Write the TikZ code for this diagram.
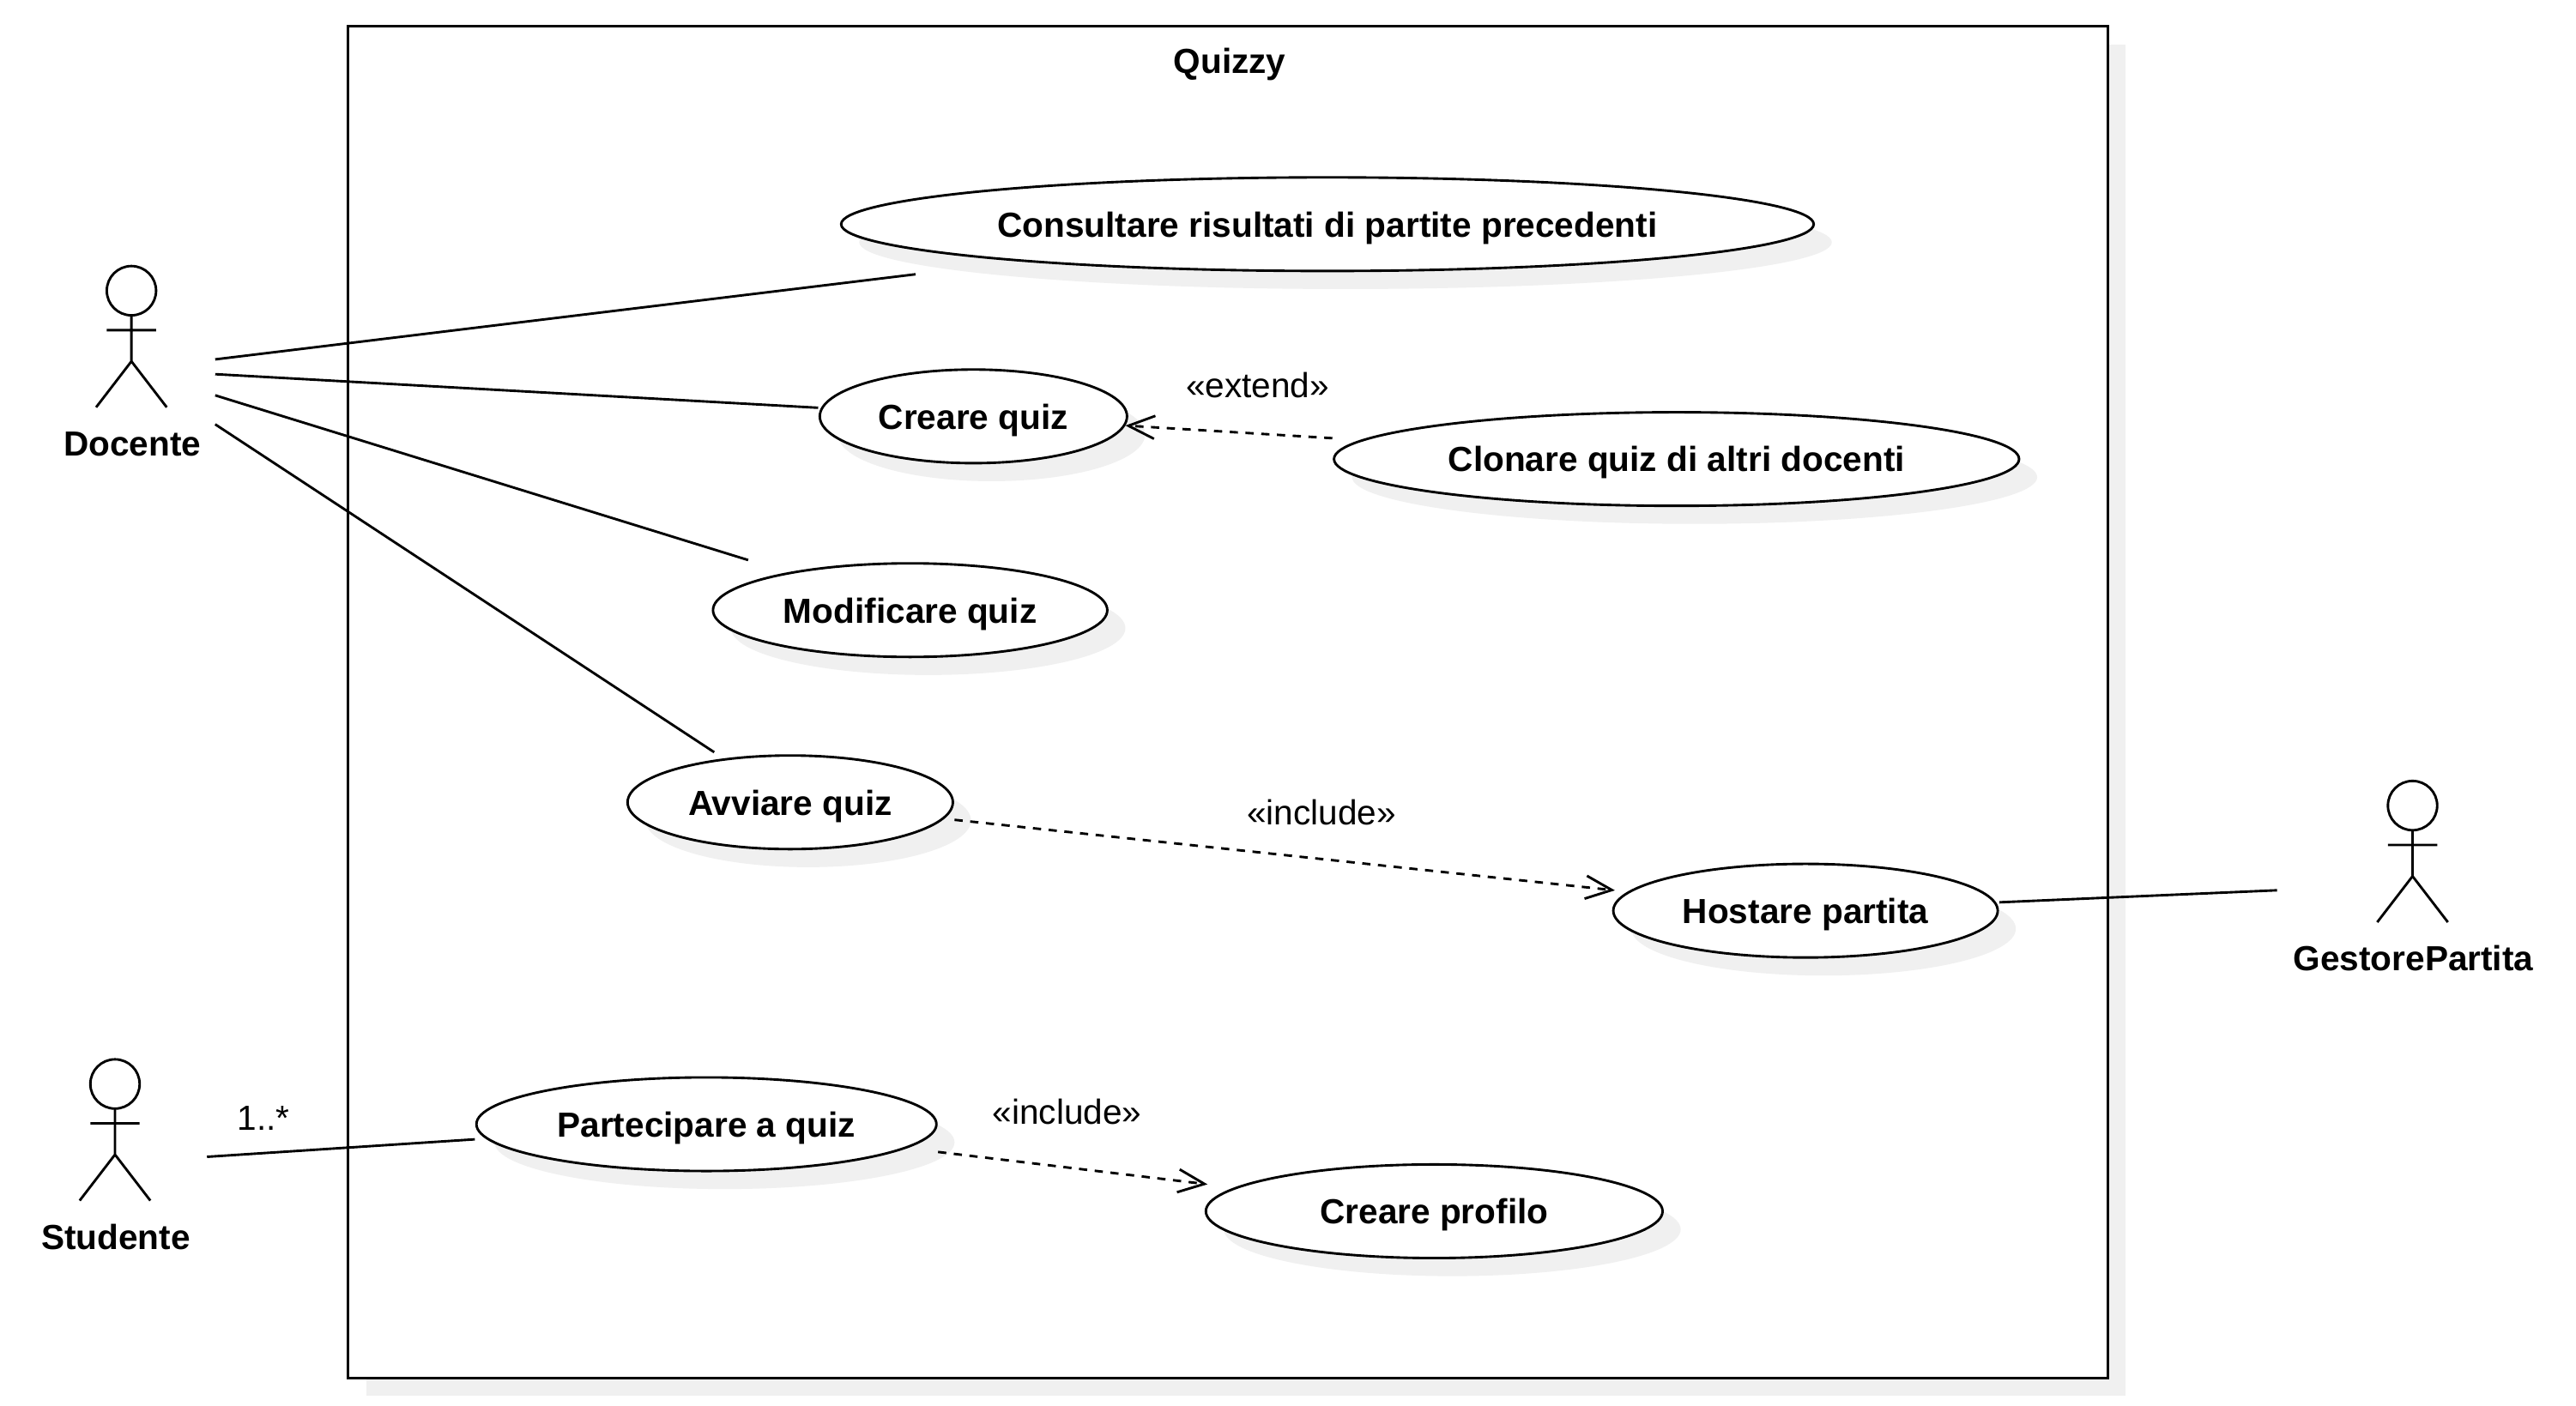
\documentclass[tikz,border=0pt]{standalone}
\usepackage{fontspec}
\setmainfont{Liberation Sans}
\usetikzlibrary{arrows.meta}
\definecolor{shadowgray}{HTML}{F0F0F0}
% ellipse with a rectangular node on top: connectors stop at the box
\newcommand{\usecase}[5]{
  \fill[shadowgray] (#2+11,#3+11) ellipse [x radius=#4pt/2, y radius=28.5pt];
  \draw[thick line, fill=white] (#2,#3) ellipse [x radius=#4pt/2, y radius=28.5pt];
  \node[usecase node, minimum width=#4pt+2pt] (#1) at (#2,#3) {#5};
}
\newcommand{\actorman}[5]{
  \node[actor node, minimum width=#4pt] (#1) at (#2,#3) {};
  \draw[thick line] (#2,#3-48) ellipse [x radius=15pt, y radius=15pt];
  \draw[thick line] (#2,#3-33) -- (#2,#3-5) -- ++(-21.5,28) (#2,#3-5) -- ++(21.5,28)
                    (#2-15,#3-24) -- (#2+15,#3-24);
  \node[bold text] (#1 label) at (#2+0.5,#3+45) {#5};
}
\begin{document}
\begin{tikzpicture}[
  x=1pt, y=-1pt,
  every node/.style={font=\fontsize{21.2}{25}\selectfont, inner sep=0pt, outer sep=0pt, align=center,
    text height=15.5pt, text depth=0pt},
  thick line/.style={draw, line width=1.5pt, black},
  bold text/.style={font=\fontsize{21.2}{25}\selectfont\bfseries},
  usecase node/.style={bold text, rectangle, minimum height=61pt},
  actor node/.style={rectangle, minimum height=128pt},
  myline/.style={thick line},
  mylinedot/.style={thick line, dash pattern=on 5pt off 4.6pt, ->, shorten >=-2pt},
  >={Straight Barb[length=16pt, width=14pt, line width=1.5pt]}
  ]
\useasboundingbox (0,0) rectangle (1568,855.57);
% system frame
\fill[shadowgray] (223,27) rectangle (1294,850);
\draw[thick line, fill=white] (212,16) rectangle (1283,839);
\node[bold text] (title) at (748.5,37) {Quizzy};
% use cases
\usecase{consultare}{808}{136.5}{592}{Consultare risultati di partite precedenti}
\usecase{crearequiz}{592.5}{253.5}{187}{Creare quiz}
\usecase{clonare}{1020.5}{279.5}{417}{Clonare quiz di altri docenti}
\usecase{modificare}{554}{371.5}{240}{Modificare quiz}
\usecase{avviare}{481}{488.5}{198}{Avviare quiz}
\usecase{hostare}{1099}{554.5}{234}{Hostare partita}
\usecase{partecipare}{430}{684.5}{280}{Partecipare a quiz}
\usecase{creareprofilo}{873}{737.5}{278}{Creare profilo}
% actors
\actorman{docente}{80}{225}{102}{Docente}
\actorman{studente}{70}{708}{112}{Studente}
\actorman{gestore}{1468.5}{538.5}{165}{GestorePartita}
% associations
\draw[myline] (docente) -- (consultare);
\draw[myline] (docente) -- (crearequiz);
\draw[myline] (docente) -- (modificare);
\draw[myline] (docente) -- (avviare);
\draw[myline] (hostare) -- (gestore);
\draw[myline] (studente) -- (partecipare);
% dependencies
\draw[mylinedot] (clonare) -- (crearequiz);
\draw[mylinedot] (avviare) -- (hostare);
\draw[mylinedot] (partecipare) -- (creareprofilo);
% labels
\node (extend label) at (765.5,234.5) {«extend»};
\node (include label) at (804.5,494.5) {«include»};
\node (include label two) at (649.5,677) {«include»};
\node (mult label) at (160.5,680.5) {1..*};
\end{tikzpicture}
\end{document}
